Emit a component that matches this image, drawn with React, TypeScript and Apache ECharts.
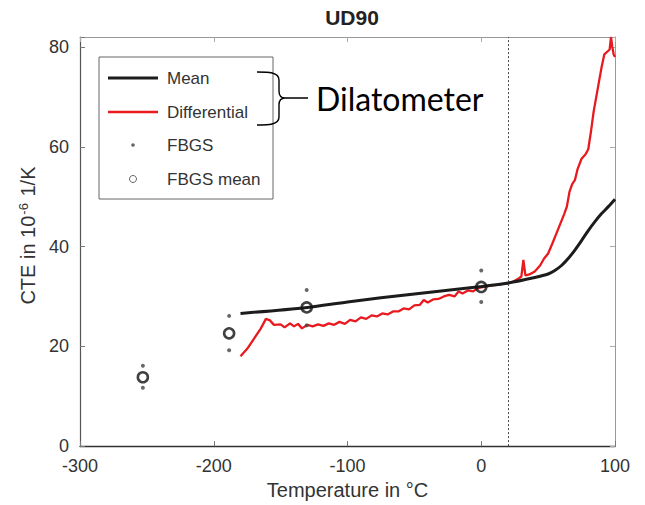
import React, { useEffect, useRef } from "react";
import * as echarts from "echarts";

const titleText = "UD90";
const xTicks = [-300, -200, -100, 0, 100];
const yTicks = [0, 20, 40, 60, 80];
const seriesNames = ["Mean", "Differential", "FBGS", "FBGS mean"];
const annotationText = "Dilatometer";
const referenceTemp = 20;

// Dilatometer mean CTE [temperature °C, CTE 1e-6/K]
const meanData: number[][] = [
  [-180, 26.6], [-130, 27.8], [-100, 28.9], [-50, 30.5], [0, 32.0],
  [20, 32.7], [40, 33.8], [50, 34.5], [55, 35.2], [60, 36.2],
  [65, 37.6], [70, 39.3], [75, 41.2], [80, 43.2], [85, 45.0],
  [90, 46.6], [95, 48.0], [100, 49.5],
];

// Dilatometer differential CTE
const diffData: number[][] = [
  [-180, 18], [-175, 19.5], [-170, 21.5], [-165, 23.5], [-161, 25.5],
  [-158, 25.2], [-155, 24.3], [-150, 24.4], [-147, 23.8], [-143, 24.6],
  [-140, 24.0], [-137, 24.5], [-134, 23.6], [-130, 24.3], [-126, 24.0],
  [-122, 24.4], [-118, 24.1], [-114, 24.6], [-110, 24.3], [-106, 24.9],
  [-102, 24.5], [-98, 25.3], [-94, 25.0], [-90, 25.8], [-86, 25.5],
  [-82, 26.2], [-78, 26.0], [-74, 26.6], [-70, 26.4], [-66, 27.0],
  [-62, 27.0], [-58, 27.6], [-54, 27.4], [-50, 28.2], [-46, 28.3],
  [-43, 29.3], [-40, 28.8], [-36, 29.4], [-32, 29.5], [-28, 30.0],
  [-24, 30.3], [-20, 30.0], [-17, 31.0], [-14, 30.6], [-10, 31.2],
  [-6, 31.0], [-3, 31.6], [0, 31.8], [4, 32.0], [8, 32.2],
  [12, 32.3], [16, 32.5], [20, 32.6], [24, 33.0], [28, 33.6],
  [30, 34.0], [31.5, 37.3], [33, 34.2], [36, 34.4], [40, 35.0],
  [44, 36.2], [47, 37.6], [50, 38.6], [53, 40.5], [56, 42.5],
  [59, 44.5], [62, 46.5], [64, 48], [66, 51], [68, 52.5],
  [70, 53.3], [72, 55.5], [75, 57.6], [78, 58.5], [80, 59.5],
  [82, 63], [84, 67], [86, 70], [88, 73], [90, 76],
  [92, 78.5], [94, 79], [96, 79.5], [97, 82], [98, 80],
  [99, 78.5], [100, 78],
];

// FBGS individual sensor values
const fbgsData: number[][] = [
  [-253, 16.1], [-253, 11.7], [-188.5, 26.1], [-188.5, 19.2],
  [-130.5, 31.3], [-130.5, 24.2], [0, 35.2], [0, 28.9],
];

// FBGS mean values
const fbgsMeanData: number[][] = [
  [-253, 13.8], [-188.5, 22.6], [-130.5, 27.8], [0, 31.9],
];

const braceD =
  "M257,72 C268,72 279,72 279,80 L279,91 C279,96 281,98 285,98 C281,98 279,100 279,105 L279,117 C279,125 268,125 257,125 M285,98 L308,98";
echarts.graphic.registerShape("brace", echarts.graphic.extendPath(braceD, {}) as any);

const FONT = '"Liberation Sans", Arial, sans-serif';

export default function App() {
  const ref = useRef<HTMLDivElement>(null);
  useEffect(() => {
    if (!ref.current) return;
    const chart = echarts.init(ref.current, undefined, { renderer: "svg" });
    const legendX = 99, legendY = 57;
    const rowY = [78, 112, 145, 179];
    chart.setOption({
      animation: false,
      backgroundColor: "#fff",
      title: {
        text: titleText,
        left: 347,
        top: 2,
        textAlign: "center",
        textStyle: { fontFamily: FONT, fontSize: 21, fontWeight: "bold", color: "#222" },
      },
      grid: { left: 80, right: 30, top: 37, bottom: 57, containLabel: false },
      xAxis: [
        {
          type: "value",
          min: xTicks[0],
          max: xTicks[xTicks.length - 1],
          interval: 100,
          name: "Temperature in °C",
          nameLocation: "middle",
          nameGap: 32,
          nameTextStyle: { fontFamily: FONT, fontSize: 20, color: "#333" },
          axisLine: { show: true, onZero: false, lineStyle: { color: "#333", width: 1.3 } },
          axisTick: { show: true, inside: true, length: 5, lineStyle: { color: "#777" } },
          axisLabel: { fontFamily: FONT, fontSize: 18, color: "#333", margin: 11 },
          splitLine: { show: false },
        },
        {
          type: "value",
          position: "top",
          min: xTicks[0],
          max: xTicks[xTicks.length - 1],
          interval: 100,
          axisLine: { show: true, onZero: false, lineStyle: { color: "#999", width: 1 } },
          axisTick: { show: true, inside: true, length: 5, lineStyle: { color: "#aaa" } },
          axisLabel: { show: false },
          splitLine: { show: false },
        },
      ],
      yAxis: [
        {
          type: "value",
          min: 0,
          max: 82,
          interval: 20,
          name: "CTE in 10{sup|-6} 1/K",
          nameLocation: "middle",
          nameGap: 36,
          nameRotate: 90,
          nameTextStyle: {
            fontFamily: FONT,
            fontSize: 20,
            color: "#333",
            padding: [0, 0, 0, 12],
            rich: { sup: { fontFamily: FONT, fontSize: 13, color: "#333", verticalAlign: "bottom", padding: [0, 1, 9, 1] } },
          },
          axisLine: { show: true, onZero: false, lineStyle: { color: "#555", width: 1.2 } },
          axisTick: { show: true, inside: true, length: 5, lineStyle: { color: "#777" } },
          axisLabel: {
            fontFamily: FONT,
            fontSize: 18,
            color: "#333",
            margin: 11,
            formatter: (v: number) => (yTicks.includes(v) ? String(v) : ""),
          },
          splitLine: { show: false },
        },
        {
          type: "value",
          position: "right",
          min: 0,
          max: 82,
          interval: 20,
          axisLine: { show: true, onZero: false, lineStyle: { color: "#999", width: 1 } },
          axisTick: { show: true, inside: true, length: 5, lineStyle: { color: "#aaa" } },
          axisLabel: { show: false },
          splitLine: { show: false },
        },
      ],
      series: [
        {
          name: seriesNames[1],
          type: "line",
          data: diffData,
          symbol: "none",
          lineStyle: { color: "#e81a1f", width: 2.3 },
          z: 3,
          markLine: {
            silent: true,
            symbol: "none",
            label: { show: false },
            lineStyle: { color: "#444", type: [2, 2], width: 1 },
            data: [{ xAxis: referenceTemp }],
          },
        },
        {
          name: seriesNames[0],
          type: "line",
          data: meanData,
          symbol: "none",
          smooth: 0.3,
          lineStyle: { color: "#1c1c1c", width: 3 },
          z: 4,
        },
        {
          name: seriesNames[2],
          type: "scatter",
          data: fbgsData,
          symbol: "circle",
          symbolSize: 4,
          itemStyle: { color: "#444" },
          z: 5,
        },
        {
          name: seriesNames[3],
          type: "scatter",
          data: fbgsMeanData,
          symbol: "circle",
          symbolSize: 10,
          itemStyle: { color: "transparent", borderColor: "#111", borderWidth: 2.6 },
          z: 6,
        },
      ],
      graphic: [
        {
          type: "rect",
          shape: { x: legendX, y: legendY, width: 174, height: 142 },
          style: { fill: "#fff", stroke: "#666", lineWidth: 1 },
          z: 100,
        },
        {
          type: "line",
          shape: { x1: 108, y1: rowY[0], x2: 158, y2: rowY[0] },
          style: { stroke: "#1c1c1c", lineWidth: 3 },
          z: 101,
        },
        {
          type: "line",
          shape: { x1: 108, y1: rowY[1], x2: 158, y2: rowY[1] },
          style: { stroke: "#e81a1f", lineWidth: 2.3 },
          z: 101,
        },
        {
          type: "circle",
          shape: { cx: 133, cy: rowY[2], r: 1.8 },
          style: { fill: "#666" },
          z: 101,
        },
        {
          type: "circle",
          shape: { cx: 133, cy: rowY[3], r: 3.5 },
          style: { fill: "none", stroke: "#666", lineWidth: 1 },
          z: 101,
        },
        ...seriesNames.map((n, i) => ({
          type: "text",
          x: 167,
          y: rowY[i],
          style: { text: n, fill: "#333", font: `17px ${FONT}`, verticalAlign: "middle" },
          z: 101,
        })),
        {
          type: "brace",
          x: 0,
          y: 0,
          style: { fill: "none", stroke: "#000", lineWidth: 1.4 },
          z: 102,
        },
        {
          type: "text",
          x: 316,
          y: 98,
          style: { text: annotationText, fill: "#000", font: '32px Lato, "Open Sans", sans-serif', verticalAlign: "middle" },
          z: 102,
        },
      ],
    });
    return () => chart.dispose();
  }, []);
  return <div ref={ref} style={{ width: 645, height: 505, position: "absolute", left: 0, top: 0 }} />;
}
